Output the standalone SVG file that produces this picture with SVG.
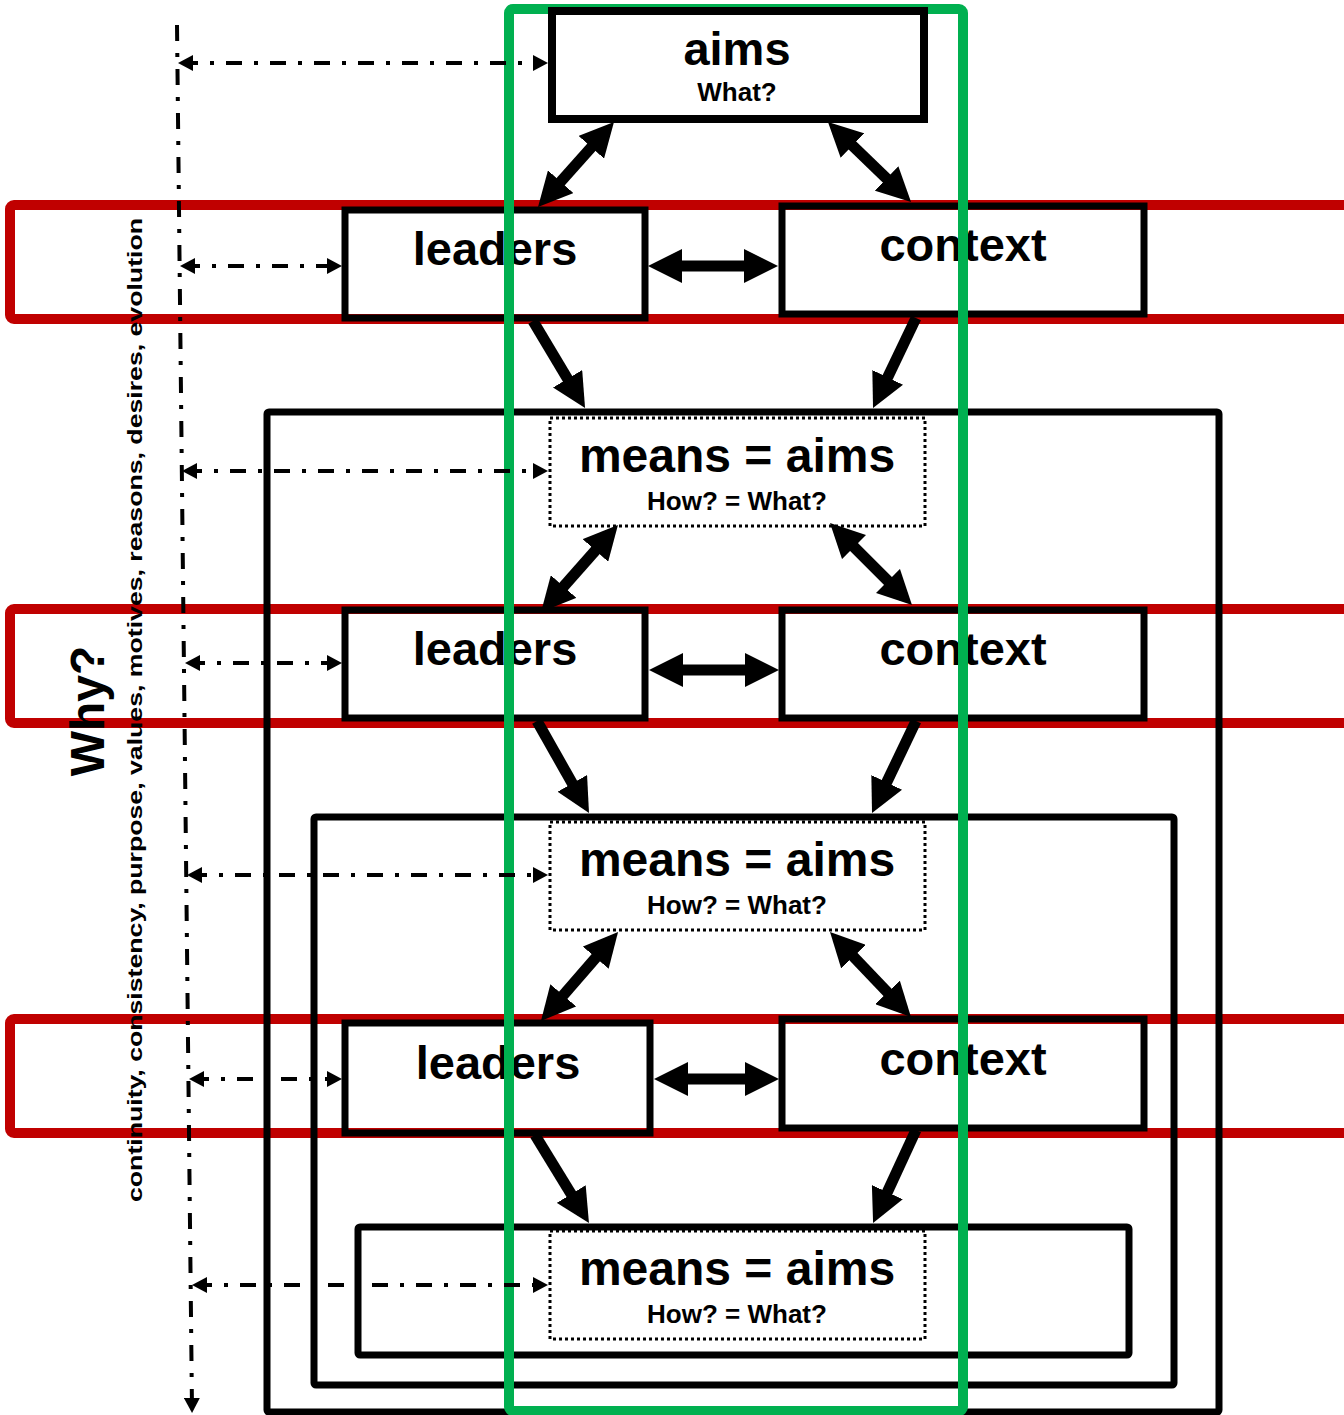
<svg xmlns="http://www.w3.org/2000/svg" width="1344" height="1415" viewBox="0 0 1344 1415">
<defs>
<style>
.band{fill:none;stroke:#C00000;stroke-width:10}
.nest{fill:none;stroke:#000;stroke-width:7}
.box{fill:none;stroke:#000;stroke-width:7}
.dot{fill:none;stroke:#000;stroke-width:3;stroke-dasharray:3 3}
.green{fill:none;stroke:#00B050;stroke-width:10}
.big{font-family:"Liberation Sans",Arial,sans-serif;font-weight:bold;font-size:47px;text-anchor:middle;fill:#000}
.mid{font-family:"Liberation Sans",Arial,sans-serif;font-weight:bold;font-size:48px;text-anchor:middle;fill:#000}
.small{font-family:"Liberation Sans",Arial,sans-serif;font-weight:bold;font-size:26px;text-anchor:middle;fill:#000}
.fat{stroke:#000;stroke-width:11;fill:none;marker-end:url(#fat)}
.fat2{stroke:#000;stroke-width:11;fill:none;marker-start:url(#fat);marker-end:url(#fat)}
.dd{stroke:#000;stroke-width:4;fill:none;stroke-dasharray:16 12 4 12;marker-start:url(#thin);marker-end:url(#thin)}
.vline{stroke:#000;stroke-width:4;fill:none;stroke-dasharray:16 12 4 12;marker-end:url(#thin)}
.why{font-family:"Liberation Sans",Arial,sans-serif;font-weight:bold;font-size:48px;text-anchor:middle;fill:#000}
.side{font-family:"Liberation Sans",Arial,sans-serif;font-weight:bold;font-size:21px;text-anchor:middle;fill:#000}
</style>
<marker id="fat" markerUnits="userSpaceOnUse" markerWidth="34" markerHeight="34" refX="22" refY="17" orient="auto-start-reverse" viewBox="0 0 34 34"><path d="M0,0 L34,17 L0,34 z" fill="#000"/></marker>
<marker id="thin" markerUnits="userSpaceOnUse" markerWidth="15" markerHeight="16" refX="11" refY="8" orient="auto-start-reverse" viewBox="0 0 15 16"><path d="M0,0 L15,8 L0,16 z" fill="#000"/></marker>
</defs>
<rect width="1344" height="1415" fill="#fff"/>

<g id="bands">
<rect class="band" x="10" y="205" width="1360" height="114" rx="4"/>
<rect class="band" x="10" y="609" width="1360" height="114" rx="4"/>
<rect class="band" x="10" y="1019" width="1360" height="114" rx="4"/>
</g>

<g id="nested-1"><rect class="nest" x="267" y="412" width="952" height="1000" rx="2"/></g>
<g id="nested-2"><rect class="nest" x="314" y="817" width="860" height="568" rx="2"/></g>
<g id="nested-3"><rect class="nest" x="358" y="1227" width="771" height="128" rx="2"/></g>

<g id="leaders-1"><rect class="box" x="345" y="210" width="300" height="108"/><text class="big" x="495" y="265">leaders</text></g>
<g id="context-1"><rect class="box" x="782" y="206" width="362" height="108"/><text class="big" x="963" y="261">context</text></g>
<g id="means-1"><rect class="dot" x="550" y="418" width="375" height="108"/><text class="mid" x="737" y="472">means = aims</text><text class="small" x="737" y="510">How? = What?</text></g>

<g id="leaders-2"><rect class="box" x="345" y="610" width="300" height="108"/><text class="big" x="495" y="665">leaders</text></g>
<g id="context-2"><rect class="box" x="782" y="610" width="362" height="108"/><text class="big" x="963" y="665">context</text></g>
<g id="means-2"><rect class="dot" x="550" y="822" width="375" height="108"/><text class="mid" x="737" y="876">means = aims</text><text class="small" x="737" y="914">How? = What?</text></g>

<g id="leaders-3"><rect class="box" x="345" y="1023" width="305" height="110"/><text class="big" x="498" y="1079">leaders</text></g>
<g id="context-3"><rect class="box" x="782" y="1019" width="362" height="109"/><text class="big" x="963" y="1075">context</text></g>
<g id="means-3"><rect class="dot" x="550" y="1231" width="375" height="108"/><text class="mid" x="737" y="1285">means = aims</text><text class="small" x="737" y="1323">How? = What?</text></g>

<g id="green-frame"><rect class="green" x="509" y="9" width="454" height="1402" rx="4"/></g>

<g id="aims"><rect class="box" x="552" y="11" width="372" height="108" style="stroke-width:8"/><text class="big" x="737" y="65">aims</text><text class="small" x="737" y="101">What?</text></g>

<g id="connectors">
<line class="fat2" x1="606" y1="130.9" x2="546" y2="198.1"/>
<line class="fat2" x1="836.6" y1="130.3" x2="902.4" y2="193.7"/>
<line class="fat2" x1="660" y1="266" x2="766" y2="266"/>
<line class="fat" x1="533" y1="321" x2="578.9" y2="397.7"/>
<line class="fat" x1="916" y1="318" x2="878.2" y2="397.2"/>

<line class="fat2" x1="610" y1="534" x2="549" y2="603"/>
<line class="fat2" x1="838.5" y1="531.5" x2="903.5" y2="596.5"/>
<line class="fat2" x1="661" y1="670" x2="767" y2="670"/>
<line class="fat" x1="537" y1="721" x2="583.1" y2="802.5"/>
<line class="fat" x1="916" y1="721" x2="877.2" y2="802.2"/>

<line class="fat2" x1="610.2" y1="941.1" x2="548.8" y2="1011.9"/>
<line class="fat2" x1="838.3" y1="940.7" x2="902.7" y2="1008.3"/>
<line class="fat2" x1="666" y1="1079" x2="767" y2="1079"/>
<line class="fat" x1="535" y1="1135" x2="582.7" y2="1212.8"/>
<line class="fat" x1="916" y1="1130" x2="878.1" y2="1212.1"/>

<line class="vline" x1="177" y1="25" x2="192" y2="1409"/>
<line class="dd" x1="182" y1="63" x2="544" y2="63"/>
<line class="dd" x1="184" y1="266" x2="338" y2="266"/>
<line class="dd" x1="186" y1="471" x2="544" y2="471"/>
<line class="dd" x1="189" y1="663" x2="338" y2="663"/>
<line class="dd" x1="191" y1="875" x2="544" y2="875"/>
<line class="dd" x1="193" y1="1079" x2="338" y2="1079"/>
<line class="dd" x1="196" y1="1285" x2="544" y2="1285"/>
</g>

<g id="labels">
<text class="why" transform="translate(104,711) rotate(-90)">Why?</text>
<text class="side" transform="translate(142,710) rotate(-90)" textLength="984" lengthAdjust="spacingAndGlyphs">continuity, consistency, purpose, values, motives, reasons, desires, evolution</text>
</g>
</svg>
